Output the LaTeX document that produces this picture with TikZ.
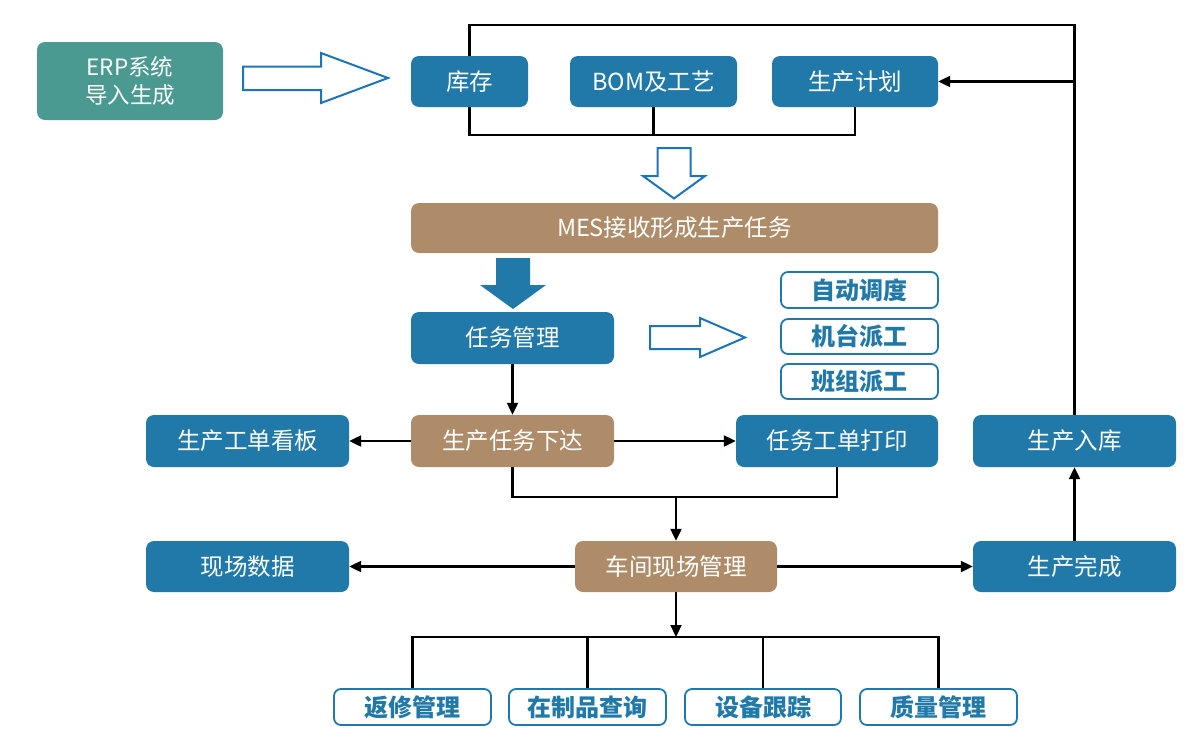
\documentclass[tikz,border=0pt]{standalone}
\usepackage{fontspec}
\setmainfont{Noto Sans CJK SC}
\usetikzlibrary{arrows.meta,positioning,calc}
\definecolor{cblue}{HTML}{2079A9}
\definecolor{ctan}{HTML}{AF8C69}
\definecolor{cteal}{HTML}{4B9A92}
\definecolor{carrow}{HTML}{1B75BC}
\begin{document}
\begin{tikzpicture}[x=1pt,y=-1pt,
  base/.style={rounded corners=8pt, inner sep=0pt, font=\fontsize{23.5}{27}\selectfont},
  bluebox/.style={base, fill=cblue, text=white},
  tanbox/.style={base, fill=ctan, text=white},
  tealbox/.style={base, fill=cteal, text=white, font=\fontsize{22.5}{28}\selectfont, align=center},
  outbox/.style={rounded corners=7pt, inner sep=0pt, draw=cblue, line width=1.8pt, fill=white, text=cblue, font=\fontsize{24}{28}\selectfont\bfseries},
  conn/.style={line width=2.2pt, black},
  arr/.style={conn, -{Triangle[length=12pt,width=11pt]}},
  hollow/.style={draw=carrow, line width=2pt, fill=white, line join=miter}
]
\useasboundingbox (0,0) rectangle (1200,742);

% nodes
\node[tealbox, minimum width=186pt, minimum height=78pt] (erp) at (130,81) {ERP系统\\导入生成};
\node[bluebox, minimum width=117pt, minimum height=51pt] (kc) at (469.5,81.5) {库存};
\node[bluebox, minimum width=167pt, minimum height=51pt] (bom) at (653.5,81.5) {BOM及工艺};
\node[bluebox, minimum width=166pt, minimum height=51pt] (jh) at (855,81.5) {生产计划};
\node[tanbox, minimum width=527pt, minimum height=50pt] (mes) at (674.5,228) {MES接收形成生产任务};
\node[bluebox, minimum width=203pt, minimum height=52pt] (rw) at (512.5,338) {任务管理};
\node[outbox, minimum width=157pt, minimum height=36pt] (zd) at (859.5,290) {自动调度};
\node[outbox, minimum width=157pt, minimum height=35pt] (jt) at (859.5,336.5) {机台派工};
\node[outbox, minimum width=157pt, minimum height=35pt] (bz) at (859.5,381.5) {班组派工};
\node[tanbox, minimum width=203pt, minimum height=52pt] (xd) at (512.5,441) {生产任务下达};
\node[bluebox, minimum width=203pt, minimum height=52pt] (kb) at (247.5,441) {生产工单看板};
\node[bluebox, minimum width=202pt, minimum height=52pt] (dy) at (837,441) {任务工单打印};
\node[bluebox, minimum width=203pt, minimum height=52pt] (rk) at (1074.5,441) {生产入库};
\node[tanbox, minimum width=202pt, minimum height=51pt] (cj) at (676,566.5) {车间现场管理};
\node[bluebox, minimum width=203pt, minimum height=51pt] (xc) at (247.5,566.5) {现场数据};
\node[bluebox, minimum width=203pt, minimum height=51pt] (wc) at (1074.5,566.5) {生产完成};
\node[outbox, minimum width=157pt, minimum height=36pt] (fx) at (412.5,707) {返修管理};
\node[outbox, minimum width=157pt, minimum height=36pt] (zz) at (587.5,707) {在制品查询};
\node[outbox, minimum width=156pt, minimum height=36pt] (sb) at (763,707) {设备跟踪};
\node[outbox, minimum width=157pt, minimum height=36pt] (zl) at (938.5,707) {质量管理};

% block arrows
\draw[hollow] (243,66.5) -- (321,66.5) -- (321,53) -- (388,78) -- (321,103) -- (321,90) -- (243,90) -- cycle;
\draw[hollow] (657.5,148) -- (690.5,148) -- (690.5,176) -- (705,176) -- (674,198.5) -- (643,176) -- (657.5,176) -- cycle;
\draw[hollow] (650,326) -- (700,326) -- (700,318) -- (745,337.5) -- (700,357) -- (700,349) -- (650,349) -- cycle;
\fill[cblue] (496,258) -- (530,258) -- (530,285) -- (546,285) -- (513,309) -- (480,285) -- (496,285) -- cycle;

% connectors
\coordinate (ytop) at (0,25);
\coordinate (ybr1) at (0,135);
\coordinate (ybr2) at (0,497);
\coordinate (ybr3) at (0,637);
\draw[conn] (kc.north) -- (kc.north |- ytop) -| (rk.north);
\draw[arr] (rk.north |- jh.east) -- (jh.east);
\draw[conn] (kc.south) -- (kc.south |- ybr1) -| (jh.south);
\draw[conn] (bom.south) -- (bom.south |- ybr1);
\draw[arr] (rw.south) -- (xd.north);
\draw[arr] (xd.west) -- (kb.east);
\draw[arr] (xd.east) -- (dy.west);
\draw[conn] (xd.south) -- (xd.south |- ybr2) -| (dy.south);
\draw[arr] (cj.north |- ybr2) -- (cj.north);
\draw[arr] (cj.west) -- (xc.east);
\draw[arr] (cj.east) -- (wc.west);
\draw[arr] (wc.north) -- (rk.south);
\draw[arr] (cj.south) -- (cj.south |- ybr3);
\draw[conn] (fx.north) -- (fx.north |- ybr3) -| (zl.north);
\draw[conn] (zz.north) -- (zz.north |- ybr3);
\draw[conn] (sb.north) -- (sb.north |- ybr3);
\end{tikzpicture}
\end{document}
